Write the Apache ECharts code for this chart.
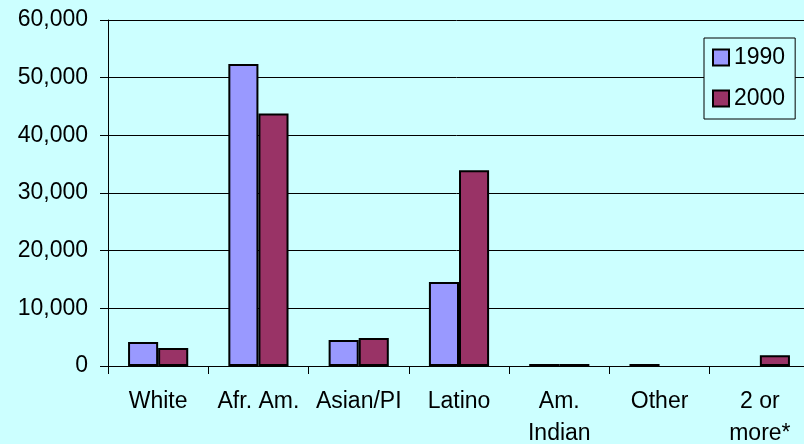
<!DOCTYPE html>
<html>
<head>
<meta charset="utf-8">
<script src="https://cdn.jsdelivr.net/npm/echarts@6/dist/echarts.min.js"></script>
<style>
  html, body { margin: 0; padding: 0; background: #CCFFFF; }
  #chart { width: 804px; height: 444px; }
</style>
</head>
<body>
<div id="chart"></div>
<script>
// Population by group, 1990 vs 2000
const categories = ['White', 'Afr. Am.', 'Asian/PI', 'Latino', 'Am.\nIndian', 'Other', '2 or\nmore*'];
const values1990 = [4150, 52350, 4500, 14550, 350, 350, null];
const values2000 = [3100, 43800, 4850, 33950, 350, null, 1850];
const yTicks = [0, 10000, 20000, 30000, 40000, 50000, 60000];

const font = 'Arial, "Liberation Sans", sans-serif';
const chart = echarts.init(document.getElementById('chart'));

chart.setOption({
  backgroundColor: '#CCFFFF',
  animation: false,
  textStyle: { fontFamily: font },
  grid: {
    left: 108, top: 20, bottom: 78, right: -6,
    containLabel: false, outerBoundsMode: 'none'
  },
  legend: {
    orient: 'vertical',
    left: 704,
    top: 38,
    padding: [8, 10, 9, 8],
    itemGap: 18,
    itemWidth: 16,
    itemHeight: 16,
    icon: 'rect',
    backgroundColor: '#CCFFFF',
    borderColor: '#000',
    borderWidth: 1,
    textStyle: { fontFamily: font, fontSize: 23, color: '#000' },
    data: ['1990', '2000']
  },
  xAxis: {
    type: 'category',
    data: categories,
    axisLine: { lineStyle: { color: '#000', width: 1 } },
    axisTick: { show: true, length: 8, lineStyle: { color: '#000' } },
    axisLabel: {
      color: '#000', fontSize: 23, fontFamily: font,
      margin: 20, lineHeight: 32, interval: 0
    }
  },
  yAxis: {
    type: 'value',
    min: yTicks[0],
    max: yTicks[yTicks.length - 1],
    interval: yTicks[1] - yTicks[0],
    axisLine: { show: true, lineStyle: { color: '#000', width: 1 } },
    axisTick: { show: true, length: 8, lineStyle: { color: '#000' } },
    splitLine: { show: true, lineStyle: { color: '#000', width: 1 } },
    axisLabel: {
      color: '#000', fontSize: 23, fontFamily: font, margin: 20,
      formatter: v => v.toLocaleString('en-US')
    }
  },
  series: [
    {
      name: '1990', type: 'bar', data: values1990,
      barGap: '0%', barCategoryGap: '40%',
      itemStyle: { color: '#9999FF', borderColor: '#000', borderWidth: 2 }
    },
    {
      name: '2000', type: 'bar', data: values2000,
      barGap: '0%', barCategoryGap: '40%',
      itemStyle: { color: '#993366', borderColor: '#000', borderWidth: 2 }
    }
  ]
});
</script>
</body>
</html>
